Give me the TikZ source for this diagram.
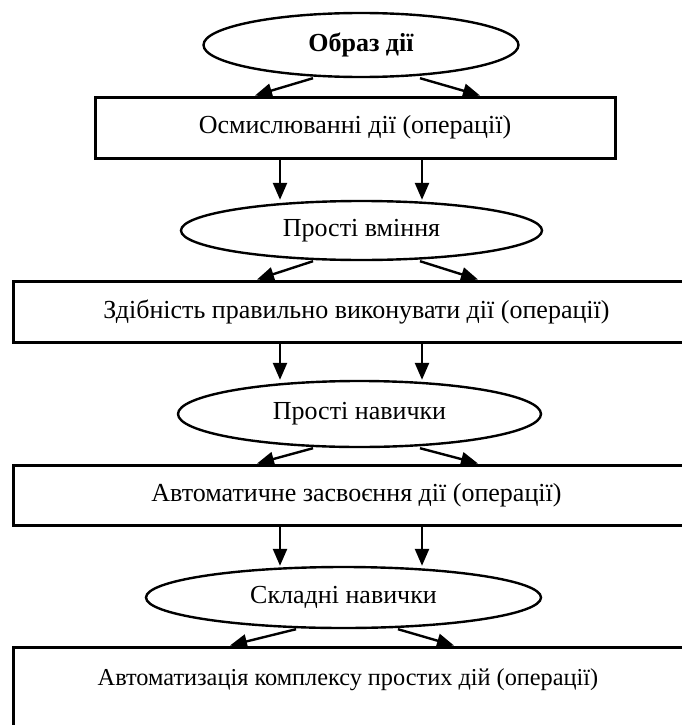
\documentclass[tikz,border=0pt]{standalone}
\usepackage{fontspec}
\setmainfont{Liberation Serif}
\usetikzlibrary{shapes.geometric,arrows.meta}
\begin{document}
\begin{tikzpicture}[x=1pt,y=-1pt,
  oval/.style={ellipse,draw,line width=2.4pt,inner sep=0pt,font=\fontsize{26}{30}\selectfont},
  box/.style={rectangle,draw,line width=3pt,inner sep=0pt,font=\fontsize{26}{30}\selectfont},
  arr/.style={line width=2.4pt,-{Triangle[length=17pt,width=14pt]}}]
\useasboundingbox (0,0) rectangle (682,725);
\clip (0,0) rectangle (682,725);
% nodes
\node[oval,minimum width=315pt,minimum height=64pt] (e1) at (361,45) {\textbf{Образ дії}};
\node[box,minimum width=520pt,minimum height=61pt] (r1) at (355,127.5) {Осмислюванні дії (операції)};
\node[oval,minimum width=361pt,minimum height=59pt] (e2) at (361.5,230.5) {Прості вміння};
\node[box,minimum width=687pt,minimum height=61pt] (r2) at (356.5,311.5) {Здібність правильно виконувати дії (операції)};
\node[oval,minimum width=363pt,minimum height=66pt] (e3) at (359.5,414) {Прості навички};
\node[box,minimum width=687pt,minimum height=60pt] (r3) at (356.5,495) {Автоматичне засвоєння дії (операції)};
\node[oval,minimum width=395pt,minimum height=61pt] (e4) at (343.5,597.5) {Складні навички};
\node[box,minimum width=687pt,minimum height=106pt,font=\fontsize{24.3}{28}\selectfont] (r4) at (356.5,700) {\hspace*{-17pt}\raisebox{15pt}[0pt][0pt]{Автоматизація комплексу простих дій (операції)}};
% columns of the vertical arrows
\coordinate (xl) at (280,0);
\coordinate (xr) at (422,0);
% ellipse -> box
\draw[arr] ([xshift=-48pt]e1.south) -- ([xshift=-100pt]r1.north);
\draw[arr] ([xshift=59pt]e1.south) -- ([xshift=125pt]r1.north);
\draw[arr] ([xshift=-48.5pt]e2.south) -- ([xshift=-99.5pt]r2.north);
\draw[arr] ([xshift=58.5pt]e2.south) -- ([xshift=121.5pt]r2.north);
\draw[arr] ([xshift=-46.5pt]e3.south) -- ([xshift=-99.5pt]r3.north);
\draw[arr] ([xshift=60.5pt]e3.south) -- ([xshift=121.5pt]r3.north);
\draw[arr] ([xshift=-47.5pt]e4.south) -- ([xshift=-126.5pt]r4.north);
\draw[arr] ([xshift=54.5pt]e4.south) -- ([xshift=97.5pt]r4.north);
% box -> ellipse
\draw[arr] (r1.south -| xl) -- (e2.north -| xl);
\draw[arr] (r1.south -| xr) -- (e2.north -| xr);
\draw[arr] (r2.south -| xl) -- (e3.north -| xl);
\draw[arr] (r2.south -| xr) -- (e3.north -| xr);
\draw[arr] (r3.south -| xl) -- (e4.north -| xl);
\draw[arr] (r3.south -| xr) -- (e4.north -| xr);
\end{tikzpicture}
\end{document}
